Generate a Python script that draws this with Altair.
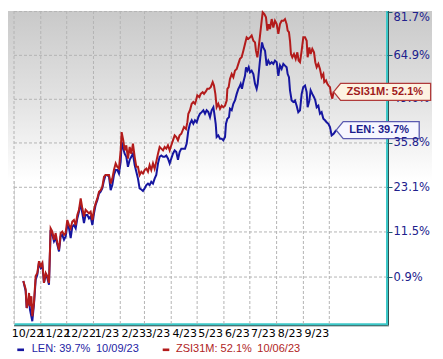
import altair as alt
import pandas as pd

# ---------------- data ----------------
BASE_DATE = "2022-10-01"          # day 0 of the day offsets below
X_DOMAIN = ["2022-10-01T00:00:00", "2023-12-06T19:00:00"]

series_names = ["LEN", "ZSI31M"]
last_dates = ["10/09/23", "10/06/23"]

len_days = [10.8, 13.5, 14.7, 17.4, 18.5, 21.2, 23.1, 25.1, 27.0, 28.9, 30.9, 32.8,
            34.7, 36.7, 38.6, 40.5, 42.4, 44.4, 46.3, 48.2, 50.2, 52.1, 54.0, 55.9,
            57.9, 59.8, 61.7, 63.7, 65.6, 67.5, 69.4, 71.4, 73.3, 75.2, 77.2, 79.1,
            81.0, 82.9, 84.9, 86.8, 88.7, 90.7, 92.6, 94.5, 96.5, 98.4, 100.3, 102.2,
            104.2, 106.1, 108.0, 110.0, 111.9, 113.8, 115.7, 117.7, 119.6, 121.5, 123.5, 124.6,
            126.5, 128.1, 130.0, 131.9, 133.9, 135.8, 137.7, 139.7, 141.6, 143.5, 145.4, 147.4,
            149.3, 151.2, 153.2, 155.1, 157.0, 158.9, 160.9, 162.8, 164.7, 166.7, 168.6, 170.5,
            172.5, 174.4, 176.3, 178.2, 180.2, 182.1, 184.0, 186.0, 187.9, 189.8, 191.7, 193.7,
            198.0, 199.9, 201.8, 203.7, 205.7, 207.6, 209.5, 211.5, 213.4, 215.3, 217.3, 219.2,
            221.1, 223.0, 225.0, 226.9, 228.8, 230.8, 231.9, 233.5, 234.6, 236.5, 238.5, 240.4,
            242.3, 244.3, 245.4, 247.0, 248.9, 250.0, 252.0, 253.9, 255.8, 257.8, 259.7, 260.9,
            262.4, 263.9, 265.5, 267.4, 268.6, 270.1, 271.7, 273.2, 275.1, 277.1, 279.0, 280.9,
            282.1, 283.6, 285.5, 287.1, 288.6, 290.6, 292.5, 294.4, 296.3, 298.3, 300.2, 302.1,
            304.1, 306.0, 307.9, 309.8, 311.8, 313.7, 315.6, 316.8, 318.3, 319.5, 321.4, 323.3,
            325.3, 327.2, 329.1, 331.1, 333.0, 334.9, 336.9, 338.8, 339.9, 341.9, 343.4, 345.3,
            347.3, 348.8, 350.4, 352.3, 354.2, 356.1, 358.1, 360.0, 361.9, 363.9, 365.8, 367.7,
            370.0, 373.0]
len_ret = [0.0, -2.2, -5.8, -3.7, -6.1, -8.5, -5.1, 0.3, 1.4, 4.1, 3.0, 3.7,
           -0.4, 1.4, 0.7, -0.8, 12.0, 10.8, 9.2, 10.0, 8.4, 6.8, 10.4, 10.8,
           9.6, 10.4, 13.2, 12.4, 10.0, 12.8, 13.2, 12.4, 14.9, 16.6, 18.8, 16.2,
           13.7, 15.8, 15.8, 14.9, 15.4, 13.2, 16.2, 18.4, 19.7, 21.4, 21.9, 22.8,
           25.0, 26.5, 26.5, 26.0, 22.3, 23.7, 26.5, 27.9, 27.9, 26.9, 30.3, 36.1,
           34.1, 32.6, 31.7, 28.8, 30.8, 31.7, 32.6, 29.3, 27.4, 25.5, 22.8, 22.5,
           22.1, 22.8, 23.7, 24.1, 23.7, 24.6, 24.1, 25.5, 26.5, 29.8, 31.7, 32.1,
           31.7, 31.7, 32.1, 31.2, 29.8, 31.2, 32.6, 33.6, 33.1, 30.8, 33.1, 34.1,
           34.1, 35.6, 39.6, 41.7, 42.8, 41.7, 42.8, 42.2, 43.8, 44.9, 45.4, 46.0,
           44.9, 46.0, 45.4, 43.8, 46.0, 47.0, 44.9, 41.7, 37.6, 38.1, 37.1, 37.1,
           36.6, 37.6, 41.7, 43.3, 43.8, 46.5, 46.0, 48.1, 49.2, 51.4, 53.1, 53.7,
           54.8, 53.1, 55.4, 57.6, 60.6, 59.4, 60.6, 58.8, 59.4, 58.2, 54.8, 53.1,
           54.8, 59.4, 65.4, 69.7, 67.8, 66.6, 61.2, 63.0, 61.8, 62.4, 61.8, 63.0,
           62.4, 57.6, 61.2, 60.0, 61.8, 61.2, 60.6, 58.2, 57.1, 52.6, 49.2, 48.7,
           49.2, 47.5, 45.4, 46.0, 51.4, 53.7, 54.2, 52.0, 47.0, 49.2, 52.6, 51.4,
           50.3, 49.2, 47.0, 47.5, 44.9, 45.4, 43.3, 42.8, 42.2, 41.7, 40.7, 38.1,
           38.6, 39.7]

zsi_days = [10.8, 13.5, 14.7, 16.2, 17.4, 18.5, 20.1, 21.2, 23.1, 25.1, 27.0, 28.9,
            30.9, 32.8, 34.7, 36.7, 38.6, 40.5, 42.4, 44.4, 46.3, 48.2, 50.2, 52.1,
            54.0, 55.9, 57.9, 59.8, 61.7, 63.7, 65.6, 67.5, 69.4, 71.4, 73.3, 75.2,
            77.2, 79.1, 81.0, 82.9, 84.9, 86.8, 88.7, 90.7, 92.6, 94.5, 96.5, 98.4,
            100.3, 102.2, 104.2, 106.1, 108.0, 110.0, 111.9, 113.8, 115.7, 117.7, 119.6, 121.5,
            123.5, 124.6, 126.5, 128.1, 130.0, 131.9, 133.9, 135.8, 137.7, 139.7, 141.6, 143.5,
            145.4, 147.4, 149.3, 151.2, 153.2, 155.1, 157.0, 158.9, 160.9, 162.8, 164.7, 166.7,
            168.6, 170.5, 172.5, 174.4, 176.3, 178.2, 180.2, 182.1, 184.0, 186.0, 187.9, 189.8,
            191.7, 193.7, 196.8, 199.1, 200.7, 201.8, 203.7, 205.7, 207.6, 209.5, 210.7, 212.2,
            214.6, 216.1, 218.4, 220.0, 222.3, 223.8, 225.7, 227.7, 230.0, 231.5, 233.1, 234.6,
            236.5, 238.5, 240.4, 242.3, 244.3, 246.2, 247.0, 248.5, 250.0, 252.0, 253.9, 255.8,
            257.8, 259.7, 261.6, 263.5, 265.5, 267.4, 269.3, 271.3, 273.2, 275.1, 277.1, 279.0,
            280.1, 281.7, 282.8, 284.8, 286.7, 287.9, 289.8, 291.7, 293.3, 294.8, 296.3, 298.3,
            300.2, 302.1, 304.1, 306.0, 307.9, 309.8, 311.8, 313.7, 315.6, 316.8, 318.3, 319.5,
            320.6, 322.2, 324.1, 326.1, 328.0, 329.5, 331.1, 333.0, 334.9, 336.9, 338.8, 339.9,
            341.9, 343.4, 345.3, 347.3, 348.8, 350.4, 352.3, 354.2, 356.1, 358.1, 359.2, 361.2,
            362.7, 364.2, 365.8, 366.9, 368.5, 370.0]
zsi_ret = [0.0, -1.8, -5.8, -4.7, -2.6, -5.4, -3.3, -7.5, -4.7, 1.1, 1.8, 4.5,
           3.4, 4.1, -0.4, 1.8, 1.1, -0.4, 12.4, 11.6, 9.6, 11.2, 8.8, 7.2,
           11.2, 11.6, 10.8, 11.2, 14.5, 13.2, 12.4, 14.1, 14.5, 13.2, 15.8, 17.1,
           20.1, 17.5, 15.4, 17.1, 16.6, 16.2, 16.6, 14.5, 17.1, 18.8, 20.1, 21.9,
           22.3, 23.2, 26.0, 26.5, 26.5, 26.5, 24.1, 25.5, 27.9, 29.8, 28.8, 28.3,
           33.6, 39.1, 36.6, 33.6, 35.1, 31.2, 34.6, 32.6, 35.6, 31.7, 28.8, 28.8,
           26.5, 27.4, 26.9, 27.9, 28.3, 27.4, 29.3, 27.9, 29.8, 28.3, 30.3, 32.6,
           34.6, 34.1, 33.6, 34.6, 34.1, 35.1, 33.6, 35.1, 36.6, 38.1, 37.6, 36.6,
           38.1, 38.6, 40.7, 40.1, 42.2, 44.9, 46.0, 48.1, 48.7, 48.1, 49.2, 50.9,
           50.3, 51.4, 52.0, 51.4, 52.3, 53.1, 53.1, 53.7, 55.4, 54.2, 51.4, 47.0,
           48.1, 46.5, 47.5, 47.0, 47.5, 49.2, 53.1, 53.7, 56.5, 58.2, 57.1, 59.4,
           60.0, 61.8, 63.6, 64.2, 66.6, 69.1, 71.6, 71.0, 71.6, 72.3, 70.3, 69.7,
           66.6, 64.2, 66.6, 72.3, 78.0, 81.4, 80.7, 79.4, 74.2, 76.7, 74.8, 78.7,
           75.4, 78.0, 76.7, 72.9, 76.7, 78.0, 78.0, 78.7, 76.7, 74.2, 73.6, 70.3,
           65.4, 64.2, 65.4, 63.6, 66.0, 63.0, 62.4, 66.6, 71.6, 71.6, 70.3, 64.2,
           67.8, 65.4, 67.3, 66.0, 62.4, 60.6, 61.8, 60.0, 57.1, 58.2, 55.4, 56.0,
           54.8, 54.2, 53.7, 51.4, 49.8, 52.1]

y_ticks = [0.9, 11.5, 23.1, 35.8, 49.6, 64.9, 81.7]
hidden_tick = 49.6                        # label sits behind the ZSI31M call-out
month_starts = ["2022-10-01", "2022-11-01", "2022-12-01", "2023-01-01", "2023-02-01",
                "2023-03-01", "2023-04-01", "2023-05-01", "2023-06-01", "2023-07-01",
                "2023-08-01", "2023-09-01", "2023-10-01"]

# ---------------- styling ----------------
W, H = 373, 313
BLUE, RED = "#1616a0", "#b31b1b"
TEAL = "#3cc8c8"
GRID = "#b4b4b4"
YLAB = "#20208c"
YFS = 11.5

assert len(len_days) == len(len_ret) and len(zsi_days) == len(zsi_ret)

base = pd.Timestamp(BASE_DATE)


def frame(name, days, rets):
    return pd.DataFrame({
        "date": base + pd.to_timedelta(days, unit="D"),
        "ratio": [1 + r / 100 for r in rets],
        "ret": rets,
        "series": name,
    })


df_len = frame("LEN", len_days, len_ret)
df_zsi = frame("ZSI31M", zsi_days, zsi_ret)
end_len = df_len.tail(1).assign(label=lambda d: [f"LEN: {v:.1f}%" for v in d["ret"]])
end_zsi = df_zsi.tail(1).assign(label=lambda d: [f"ZSI31M: {v:.1f}%" for v in d["ret"]])

df_yt = pd.DataFrame({"ratio": [1 + v / 100 for v in y_ticks]})
df_hid = pd.DataFrame({"ratio": [1 + hidden_tick / 100], "label": [f"{hidden_tick:.1f}%"]})
df_m = pd.DataFrame({"date": pd.to_datetime(month_starts)})

x_scale = alt.Scale(domain=X_DOMAIN, nice=False)
y_scale = alt.Scale(type="log", domain=[0.9093, 1.8192], nice=False, zero=False)

x_axis = alt.Axis(
    values=[alt.DateTime(year=int(s[:4]), month=int(s[5:7]), date=1) for s in month_starts],
    format="%-m/%y", formatType="time",
    labelExpr="(year(datum.value) == 2023 && month(datum.value) == 9) ? '' : datum.label",
    ticks=False, grid=False, domain=True, domainColor=TEAL, domainWidth=2.5,
    labelOffset=13, labelAlign="center", labelOverlap=False, labelFlush=False,
    labelBound=False, labelPadding=3, labelFont="DejaVu Sans", labelFontSize=11,
    labelColor="#000000", title=None,
)
y_axis = alt.Axis(
    orient="right",
    values=[1 + v / 100 for v in y_ticks if v != hidden_tick],
    labelExpr="format(datum.value - 1, '.1%')",
    domain=False, grid=False, ticks=True, tickSize=5, tickColor="#1f5f70",
    labelPadding=1, labelFont="DejaVu Sans", labelFontSize=YFS, labelColor=YLAB,
    labelFlush=2, title=None, zindex=1,
)

X = alt.X("date:T", scale=x_scale, axis=x_axis)
Y = alt.Y("ratio:Q", scale=y_scale, axis=y_axis)

one = pd.DataFrame({"a": [0]})

grad = alt.LinearGradient(
    gradient="linear",
    stops=[alt.GradientStop(color="#c9c9c9", offset=0),
           alt.GradientStop(color="#e4e4e4", offset=0.55),
           alt.GradientStop(color="#ffffff", offset=1)],
    x1=0, x2=0, y1=0, y2=1,
)
bg = alt.Chart(one).mark_rect(color=grad).encode(
    x=alt.value(-6), x2=alt.value(418), y=alt.value(0), y2=alt.value(170))

hgrid = alt.Chart(df_yt).mark_rule(color=GRID, strokeDash=[3, 2], strokeWidth=1).encode(
    y=Y, x=alt.value(0), x2=alt.value(W))
vgrid = alt.Chart(df_m).mark_rule(color=GRID, strokeDash=[3, 2], strokeWidth=1).encode(
    x=X, y=alt.value(0), y2=alt.value(H))

right_line = alt.Chart(one).mark_rule(color=TEAL, strokeWidth=2).encode(
    x=alt.value(W), y=alt.value(0), y2=alt.value(H + 1))
right_edge = alt.Chart(one).mark_rule(color="#2f5050", strokeWidth=1).encode(
    x=alt.value(W + 1.5), y=alt.value(0), y2=alt.value(H + 1))
bottom_edge = alt.Chart(one).mark_rule(color="#2f5050", strokeWidth=1).encode(
    x=alt.value(0), x2=alt.value(W + 2), y=alt.value(H + 1.8))

line_len = alt.Chart(df_len).mark_line(color=BLUE, strokeWidth=2).encode(x=X, y=Y)
line_zsi = alt.Chart(df_zsi).mark_line(color=RED, strokeWidth=2).encode(x=X, y=Y)

hid_tick = alt.Chart(df_hid).mark_rule(color="#1f5f70").encode(
    y=Y, x=alt.value(W), x2=alt.value(W + 5))
hid_label = alt.Chart(df_hid).mark_text(
    align="left", baseline="middle", font="DejaVu Sans", fontSize=YFS, color=YLAB
).encode(y=Y, x=alt.value(W + 6), text="label:N")

ZSI_SHAPE = "M0,0L0.14,-0.17L1.94,-0.17L1.94,0.17L0.14,0.17Z"
LEN_SHAPE = "M0,0L0.14,-0.17L1.66,-0.17L1.66,0.17L0.14,0.17Z"

box_zsi = alt.Chart(end_zsi).mark_point(
    shape=ZSI_SHAPE, size=10000, filled=True, fill="#fdf3e2", stroke="#b03a3a",
    strokeWidth=1.3, opacity=1).encode(x=X, y=Y)
box_len = alt.Chart(end_len).mark_point(
    shape=LEN_SHAPE, size=10000, filled=True, fill="#f6f6ff", stroke="#5a5ab0",
    strokeWidth=1.3, opacity=1).encode(x=X, y=Y)
txt_zsi = alt.Chart(end_zsi).mark_text(
    align="left", baseline="middle", dx=13, font="Liberation Sans", fontSize=11,
    fontWeight="bold", color="#a01c1c").encode(x=X, y=Y, text="label:N")
txt_len = alt.Chart(end_len).mark_text(
    align="left", baseline="middle", dx=13, font="Liberation Sans", fontSize=11,
    fontWeight="bold", color="#1c1c8c").encode(x=X, y=Y, text="label:N")

# bottom legend
leg_y = 337.8
leg_len_dash = alt.Chart(one).mark_rule(color=BLUE, strokeWidth=2.6).encode(
    x=alt.value(3.3), x2=alt.value(10), y=alt.value(leg_y + 1))
leg_zsi_dash = alt.Chart(one).mark_rule(color=RED, strokeWidth=2.6).encode(
    x=alt.value(148.7), x2=alt.value(155.3), y=alt.value(leg_y + 1))


def leg_text(text, xpos, color):
    return alt.Chart(pd.DataFrame({"t": [text]})).mark_text(
        align="left", baseline="middle", font="Liberation Sans", fontSize=11, color=color
    ).encode(x=alt.value(xpos), y=alt.value(leg_y), text="t:N")


leg1 = leg_text(f"{series_names[0]}: {len_ret[-1]:.1f}%", 17.7, "#2424a4")
leg2 = leg_text(last_dates[0], 82, "#2424a4")
leg3 = leg_text(f"{series_names[1]}: {zsi_ret[-1]:.1f}%", 162, "#b02424")
leg4 = leg_text(last_dates[1], 243.3, "#b02424")

chart = alt.layer(
    bg, hgrid, vgrid, right_line, right_edge, bottom_edge,
    line_len, line_zsi, hid_tick, hid_label,
    box_zsi, box_len, txt_zsi, txt_len,
    leg_len_dash, leg_zsi_dash, leg1, leg2, leg3, leg4,
).properties(
    width=W, height=H,
    padding={"left": 0, "top": 0, "right": 0, "bottom": 0},
).configure_view(stroke=None).configure(background="#ffffff")

chart.save("out.html", embed_options={"renderer": "svg", "actions": False})
